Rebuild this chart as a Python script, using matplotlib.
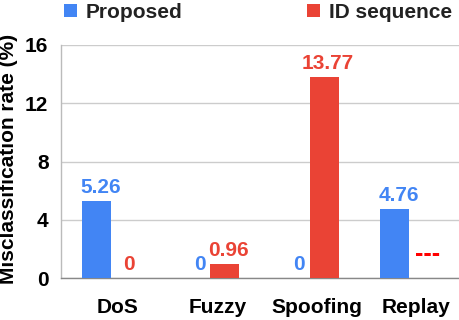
import matplotlib
matplotlib.use("Agg")
import matplotlib.pyplot as plt
import numpy as np

categories = ["DoS", "Fuzzy", "Spoofing", "Replay"]
proposed = [5.26, 0, 0, 4.76]
id_sequence = [0, 0.96, 13.77, None]  # Replay: not available ("---")
series_names = ["Proposed", "ID sequence"]
yticks = [0, 4, 8, 12, 16]

BLUE = "#4285F4"
RED = "#EA4335"
plt.rcParams["font.family"] = ["Liberation Sans", "DejaVu Sans"]
plt.rcParams["font.weight"] = "bold"

fig = plt.figure(figsize=(4.6, 3.2), dpi=100)
W, H = 460, 320
ax = fig.add_axes([61 / W, (H - 278) / H, (459 - 61) / W, (278 - 45) / H])

x = np.arange(len(categories))
bw = 0.29
pv = np.array(proposed, dtype=float)
iv = np.array([np.nan if v is None else v for v in id_sequence], dtype=float)
b1 = ax.bar(x - bw / 2, pv, bw, color=BLUE, label=series_names[0], zorder=3)
b2 = ax.bar(x + bw / 2, np.nan_to_num(iv), bw, color=RED, label=series_names[1], zorder=3)

fs = 15

def label_bars(bars, vals, color):
    for rect, v in zip(bars, vals):
        cx = rect.get_x() + rect.get_width() / 2
        if np.isnan(v):
            ax.annotate("---", (cx, 0), xytext=(4, 12), textcoords="offset pixels",
                        ha="center", va="bottom", color="#FF0000", fontsize=18,
                        fontweight="bold")
        else:
            ax.annotate(f"{v:g}", (cx, v), xytext=(4, 4), textcoords="offset pixels",
                        ha="center", va="bottom", color=color, fontsize=fs,
                        fontweight="bold")

label_bars(b1, pv, BLUE)
label_bars(b2, iv, RED)

ax.set_xlim(-0.5, len(categories) - 0.5)
ax.set_ylim(0, 16)
ax.set_yticks(yticks)
ax.set_yticklabels([str(t) for t in yticks], fontsize=fs, fontweight="bold")
ax.set_xticks(x + 0.07)
ax.set_xticklabels(categories, fontsize=fs, fontweight="bold")
ax.tick_params(axis="x", length=0, pad=14.5)
ax.tick_params(axis="y", length=0, pad=9)
ax.grid(axis="y", color="#CCCCCC", linewidth=1, zorder=0)
ax.set_axisbelow(True)
for s in ["top", "right"]:
    ax.spines[s].set_visible(False)
ax.spines["left"].set_color("#BBBBBB")
ax.spines["bottom"].set_color("#888888")
ax.spines["left"].set_linewidth(1)
ax.spines["bottom"].set_linewidth(1)

ax.set_ylabel("Misclassification rate (%)", fontsize=fs, fontweight="bold")
ax.yaxis.set_label_coords(-0.108, 0.51)

leg = fig.legend(handles=[b1, b2], labels=series_names, loc="upper left",
                 bbox_to_anchor=(64 / W, 1.0 - 3 / H), ncol=2, frameon=False,
                 fontsize=fs, handlelength=0.6, handleheight=0.6,
                 handletextpad=0.43, columnspacing=6.0, borderpad=0.0,
                 borderaxespad=0.0)
for t in leg.get_texts():
    t.set_color("#222222")
    t.set_fontweight("bold")

fig.savefig("out.png", dpi=100)
